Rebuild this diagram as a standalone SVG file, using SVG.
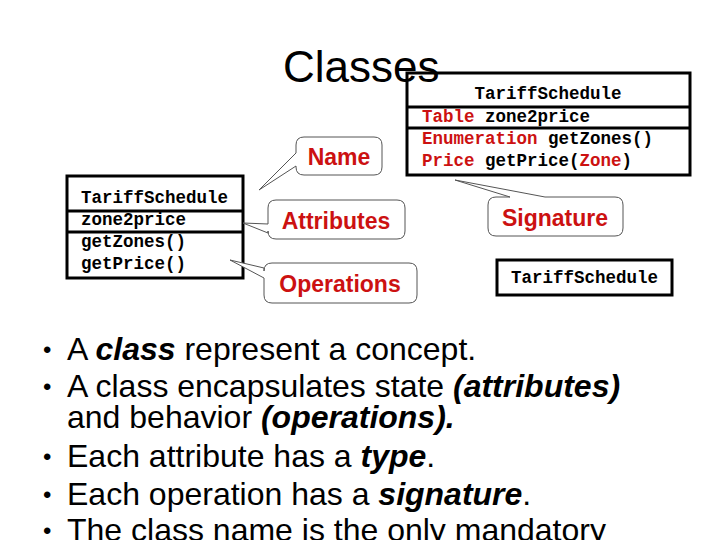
<svg xmlns="http://www.w3.org/2000/svg" width="720" height="540" viewBox="0 0 720 540">
<style>
.mono{font-family:"Liberation Mono","Courier New",monospace;font-weight:bold;font-size:17.5px;fill:#000}
.red{fill:#cc1111}
.box{fill:#fff;stroke:#000;stroke-width:3}
.div{stroke:#000;stroke-width:3}
.callout{fill:#fff;stroke:#555;stroke-width:1}
.clabel{font-family:"Liberation Sans",Arial,sans-serif;font-weight:bold;font-size:23px;fill:#cc1111;text-anchor:middle}
.bul{font-family:"Liberation Sans",Arial,sans-serif;font-size:32px;fill:#000}
.dot{font-size:24px}
.bi{font-weight:bold;font-style:italic}
</style>
<rect width="720" height="540" fill="#fff"/>

<g id="left-class">
<rect class="box" x="67" y="176" width="176" height="102"/>
<line class="div" x1="67" y1="211" x2="243" y2="211"/>
<line class="div" x1="67" y1="232" x2="243" y2="232"/>
<text class="mono" x="81" y="203">TariffSchedule</text>
<text class="mono" x="81" y="225">zone2price</text>
<text class="mono" x="81" y="247">getZones()</text>
<text class="mono" x="81" y="269">getPrice()</text>
</g>

<g id="right-class">
<rect class="box" x="407" y="73" width="283" height="102"/>
<line class="div" x1="407" y1="107" x2="690" y2="107"/>
<line class="div" x1="407" y1="128" x2="690" y2="128"/>
<text class="mono" x="548" y="99" text-anchor="middle">TariffSchedule</text>
<text class="mono" x="422" y="122"><tspan class="red">Table</tspan> zone2price</text>
<text class="mono" x="422" y="144"><tspan class="red">Enumeration</tspan> getZones()</text>
<text class="mono" x="422" y="166"><tspan class="red">Price</tspan> getPrice(<tspan class="red">Zone</tspan>)</text>
</g>

<g id="small-class">
<rect class="box" x="497" y="260" width="175" height="35"/>
<text class="mono" x="584.5" y="283" text-anchor="middle">TariffSchedule</text>
</g>

<g id="connectors">
<g id="callout-name">
<path class="callout" d="M304,137 H374 Q382,137 382,145 V167 Q382,175 374,175 H304 Q296,175 296,167 V166 L259,190 L296,153 V145 Q296,137 304,137 Z"/>
<text class="clabel" x="339" y="165">Name</text>
</g>
<g id="callout-attributes">
<path class="callout" d="M276,200 H397 Q405,200 405,208 V231 Q405,239 397,239 H276 Q268,239 268,231 V233 L243,223 L268,224 V208 Q268,200 276,200 Z"/>
<text class="clabel" x="336" y="229">Attributes</text>
</g>
<g id="callout-operations">
<path class="callout" d="M272,263 H409 Q417,263 417,271 V295 Q417,303 409,303 H272 Q264,303 264,295 V278 L230,260 L264,268 V271 Q264,263 272,263 Z"/>
<text class="clabel" x="340" y="292">Operations</text>
</g>
<g id="callout-signature">
<path class="callout" d="M496,197 H510 L455,180 L545,197 H615 Q623,197 623,205 V228 Q623,236 615,236 H496 Q488,236 488,228 V205 Q488,197 496,197 Z"/>
<text class="clabel" x="555" y="226">Signature</text>
</g>
</g>

<text id="title" x="283" y="82" font-family="Liberation Sans, Arial, sans-serif" font-size="44" fill="#000">Classes</text>

<g id="bullets" class="bul">
<text class="dot" x="43" y="358">•</text><text x="67" y="360">A <tspan class="bi">class</tspan> represent a concept.</text>
<text class="dot" x="43" y="395">•</text><text x="67" y="397">A class encapsulates state <tspan class="bi">(attributes)</tspan></text>
<text x="67" y="428">and behavior <tspan class="bi">(operations).</tspan></text>
<text class="dot" x="43" y="465">•</text><text x="67" y="467">Each attribute has a <tspan class="bi">type</tspan>.</text>
<text class="dot" x="43" y="503">•</text><text x="67" y="505">Each operation has a <tspan class="bi">signature</tspan>.</text>
<text class="dot" x="43" y="539">•</text><text x="67" y="541">The class name is the only mandatory</text>
</g>
</svg>
